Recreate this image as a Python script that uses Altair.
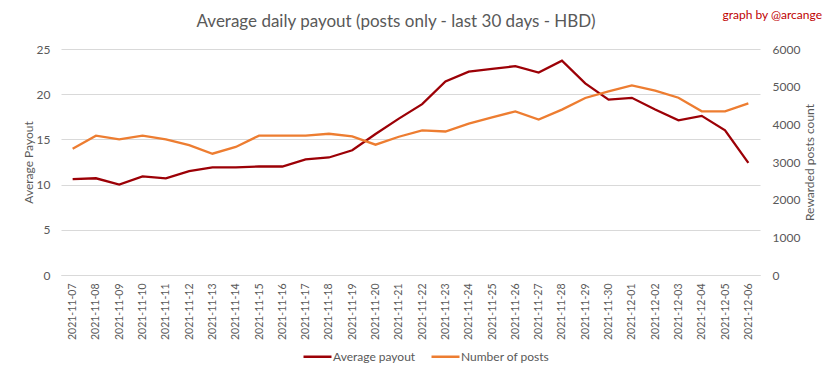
import altair as alt
import pandas as pd

dates = [
    "2021-11-07", "2021-11-08", "2021-11-09", "2021-11-10", "2021-11-11", "2021-11-12",
    "2021-11-13", "2021-11-14", "2021-11-15", "2021-11-16", "2021-11-17", "2021-11-18",
    "2021-11-19", "2021-11-20", "2021-11-21", "2021-11-22", "2021-11-23", "2021-11-24",
    "2021-11-25", "2021-11-26", "2021-11-27", "2021-11-28", "2021-11-29", "2021-11-30",
    "2021-12-01", "2021-12-02", "2021-12-03", "2021-12-04", "2021-12-05", "2021-12-06",
]
avg_payout = [
    10.6, 10.7, 10.0, 10.9, 10.7, 11.5, 11.9, 11.9, 12.0, 12.0, 12.8, 13.0,
    13.8, 15.6, 17.3, 18.9, 21.4, 22.5, 22.8, 23.1, 22.4, 23.7, 21.2, 19.4,
    19.6, 18.3, 17.1, 17.6, 16.0, 12.4,
]
num_posts = [
    3350, 3700, 3600, 3700, 3600, 3450, 3220, 3400, 3700, 3700, 3700, 3750,
    3680, 3460, 3670, 3840, 3810, 4020, 4185, 4345, 4125, 4390, 4700, 4875,
    5035, 4893, 4707, 4345, 4345, 4557,
]
series_names = ["Average payout", "Number of posts"]
series_colors = ["#9C0006", "#ED7D31"]

df = pd.DataFrame({"date": dates, "payout": avg_payout, "posts": num_posts})

FONT = "Lato"
GREY = "#595959"
GRID = "#D9D9D9"

xenc = alt.X(
    "date:O",
    scale=alt.Scale(type="point", padding=0.5),
    axis=alt.Axis(
        title=None, labelAngle=270, labelFontSize=10.5, labelColor=GREY, labelFont=FONT,
        ticks=False, domainColor=GRID, domainWidth=1, labelPadding=8, grid=False,
    ),
)

color_scale = alt.Scale(domain=series_names, range=series_colors)
legend = alt.Legend(
    title=None, orient="none", legendX=241, legendY=292, direction="horizontal",
    symbolType="stroke", symbolSize=784, symbolStrokeWidth=2.5, labelFontSize=12,
    labelColor=GREY, labelFont=FONT, labelOffset=0, columnPadding=10,
)

payout = alt.Chart(df).transform_calculate(series="'Average payout'").mark_line(
    strokeWidth=2.3
).encode(
    x=xenc,
    y=alt.Y(
        "payout:Q",
        scale=alt.Scale(domain=[0, 25], nice=False),
        axis=alt.Axis(
            title="Average Payout", values=[0, 5, 10, 15, 20, 25], orient="left",
            ticks=False, domain=False, gridColor=GRID, gridWidth=1, labelFontSize=12,
            labelColor=GREY, labelFont=FONT, labelPadding=11, titleFontSize=12,
            titleColor=GREY, titleFont=FONT, titleFontWeight="normal",
            titleX=-33, titleY=113, titleAngle=270, titleAlign="center",
            titleBaseline="middle",
        ),
    ),
    color=alt.Color("series:N", scale=color_scale, legend=legend),
)

posts = alt.Chart(df).transform_calculate(series="'Number of posts'").mark_line(
    strokeWidth=2.3
).encode(
    x=xenc,
    y=alt.Y(
        "posts:Q",
        scale=alt.Scale(domain=[0, 6000], nice=False),
        axis=alt.Axis(
            title="Rewarded posts count", values=[0, 1000, 2000, 3000, 4000, 5000, 6000],
            format="d", orient="right", ticks=False, domain=False, grid=False,
            labelFontSize=12, labelColor=GREY, labelFont=FONT, labelPadding=12,
            titleFontSize=12, titleColor=GREY, titleFont=FONT, titleFontWeight="normal",
            titleX=49, titleY=113, titleAngle=270, titleAlign="center",
            titleBaseline="middle",
        ),
    ),
    color=alt.Color("series:N", scale=color_scale, legend=legend),
)

title_text = alt.Chart(
    alt.Data(values=[{"t": "Average daily payout (posts only - last 30 days - HBD)"}])
).mark_text(font=FONT, fontSize=17, color=GREY, align="center", baseline="middle").encode(
    text="t:N", x=alt.value(335), y=alt.value(-27)
)

credit_text = alt.Chart(alt.Data(values=[{"t": "graph by @arcange"}])).mark_text(
    font=FONT, fontSize=12, color="#C00000", align="right", baseline="middle"
).encode(text="t:N", x=alt.value(761), y=alt.value(-34))

chart = (
    alt.layer(payout, posts, title_text, credit_text)
    .resolve_scale(y="independent")
    .properties(
        width=699, height=226,
        autosize=alt.AutoSizeParams(type="none"),
        padding={"left": 53, "top": 41, "right": 65, "bottom": 96},
        background="white",
    )
    .configure_view(stroke=None)
)

chart.save("out.html", embed_options={"renderer": "svg", "actions": False})
